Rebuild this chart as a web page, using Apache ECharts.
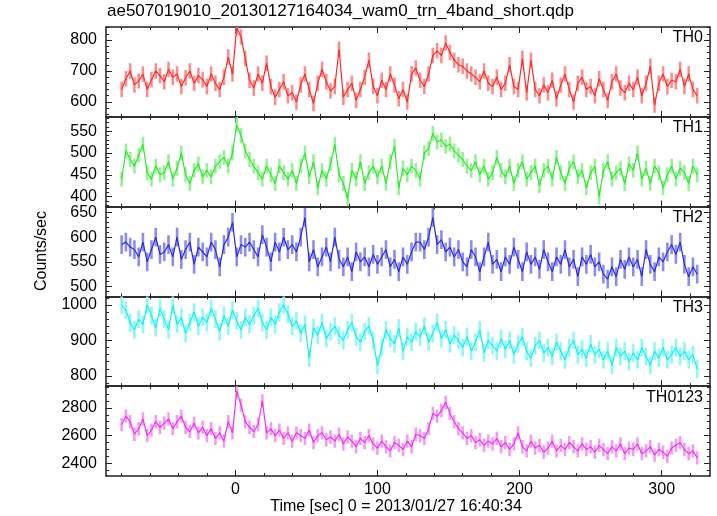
<!DOCTYPE html>
<html><head><meta charset="utf-8">
<script src="https://cdn.jsdelivr.net/npm/echarts@6/dist/echarts.min.js"></script>
<style>html,body{margin:0;padding:0;background:#fff}#c{width:717px;height:516px}</style>
</head><body><div id="c"></div>
<script>
const titleText = 'ae507019010_20130127164034_wam0_trn_4band_short.qdp';
const xName = 'Time [sec] 0 = 2013/01/27 16:40:34';
const yName = 'Counts/sec';
const panelNames = ['TH0', 'TH1', 'TH2', 'TH3', 'TH0123'];
const timeStart = -80, timeStep = 3;

const th0 = [
 640,675,700,655,668,690,640,672,700,685,
 665,705,680,690,650,678,700,660,685,672,
 650,690,660,640,680,745,690,840,810,740,
 670,645,690,660,725,650,615,640,665,620,
 630,600,655,690,640,595,660,705,665,635,
 650,770,615,640,660,605,640,680,735,650,
 620,670,640,690,655,610,640,600,690,710,
 670,650,690,750,765,750,790,760,735,720,
 715,700,690,680,665,700,660,650,680,640,
 660,720,650,640,740,630,735,640,620,655,
 630,670,610,655,690,640,600,660,680,640,
 650,620,675,640,605,665,690,645,630,660,
 640,680,620,660,715,590,660,690,650,670,
 665,705,650,690,640,620];
const th1 = [
 440,505,485,470,495,520,455,440,470,450,
 455,480,440,465,500,450,430,460,475,445,
 460,445,470,480,490,470,500,565,540,505,
 485,470,455,440,470,450,430,470,455,440,
 460,430,470,500,445,480,420,460,440,475,
 520,450,430,395,460,440,480,430,455,470,
 445,470,430,480,515,420,465,450,470,460,
 440,500,510,545,525,530,515,520,505,495,
 485,470,460,480,450,470,440,455,490,460,
 445,470,430,460,480,440,455,470,425,460,
 470,440,490,455,430,465,480,445,460,420,
 455,470,400,460,480,440,455,465,430,475,
 460,500,440,465,430,470,455,420,450,470,
 440,465,455,430,470,450];
const th2 = [
 585,590,580,575,560,590,550,575,600,565,
 570,585,560,600,555,575,590,545,580,570,
 560,590,575,540,585,600,630,560,585,580,
 590,575,560,605,580,550,590,570,600,575,
 585,570,600,640,550,575,540,560,580,550,
 600,555,540,560,530,570,550,560,540,565,
 545,560,575,540,555,530,560,545,570,590,
 590,575,600,640,585,595,570,580,560,575,
 550,540,575,560,530,560,590,545,555,530,
 560,545,580,555,530,570,545,560,535,575,
 550,530,560,545,575,540,555,520,560,545,
 565,540,550,525,515,540,520,555,535,560,
 540,555,520,575,545,530,560,550,570,585,
 565,590,545,520,540,525];
const th3 = [
 1000,985,950,930,960,945,1000,970,935,990,
 960,930,1000,945,965,920,950,980,940,965,
 950,990,960,925,970,940,985,955,930,965,
 945,970,990,950,930,965,945,980,1000,975,
 940,955,920,945,850,935,915,950,905,925,
 940,915,900,930,950,910,895,925,940,900,
 830,880,930,905,890,935,870,910,895,925,
 910,940,895,920,950,905,930,890,915,900,
 880,910,870,895,930,865,900,885,870,905,
 875,900,860,890,910,870,850,885,900,865,
 880,855,895,870,845,880,900,860,875,850,
 890,860,875,845,870,830,880,855,870,840,
 865,845,880,855,830,870,850,880,845,860,
 880,855,870,845,860,820];
const th0123 = [
 2680,2740,2700,2610,2650,2720,2600,2640,2700,2660,
 2690,2720,2650,2700,2740,2660,2630,2690,2620,2660,
 2600,2650,2580,2620,2560,2700,2620,2920,2820,2700,
 2660,2630,2680,2850,2620,2650,2600,2640,2580,2620,
 2560,2620,2600,2580,2640,2550,2600,2620,2570,2590,
 2560,2610,2540,2590,2560,2520,2580,2550,2600,2540,
 2510,2560,2520,2490,2550,2530,2500,2560,2520,2610,
 2600,2580,2650,2760,2740,2780,2840,2760,2700,2650,
 2620,2580,2600,2550,2570,2530,2560,2540,2580,2520,
 2550,2500,2540,2620,2520,2490,2560,2510,2530,2480,
 2510,2560,2490,2530,2500,2550,2520,2490,2540,2500,
 2520,2480,2530,2500,2470,2520,2490,2540,2470,2510,
 2500,2540,2470,2490,2520,2460,2500,2480,2450,2510,
 2530,2550,2500,2470,2490,2440];

const seriesValues = [th0, th1, th2, th3, th0123];
const errors = [25, 17, 19, 25, 48];
const yMin = [552, 377, 480, 771, 2309];
const yMax = [842, 583, 662, 1024, 2956];
const yMajor = [[600,700,800],[400,450,500,550],[500,550,600,650],[800,900,1000],[2400,2600,2800]];
const yMinorStep = [20, 10, 10, 20, 50];
const xMin = -91, xMax = 334;
const xMajor = [0, 100, 200, 300];
const xMinorStep = 20;
const darkColors = ['#ff2a2a', '#2ee82e', '#2a2ae8', '#14f0f0', '#f032f0'];
const lightColors = ['#ff8c8c', '#94f294', '#8c8cf0', '#8cf8f8', '#f59af5'];

function stepValues(min, max, step) {
  const out = [];
  for (let v = Math.ceil(min / step) * step; v <= max; v += step) out.push(v);
  return out;
}
const xMinor = stepValues(xMin, xMax, xMinorStep);

const chart = echarts.init(document.getElementById('c'), null, {renderer: 'canvas'});
const gridLeft = 106, gridWidth = 604, gridTop = 27, panelH = 89.8;
const grids = [], xAxes = [], yAxes = [], series = [], graphics = [];
const lineCol = '#222';
const font = '"Liberation Sans", Arial, sans-serif';
const plain = v => String(v);

for (let i = 0; i < 5; i++) {
  grids.push({left: gridLeft, width: gridWidth, top: gridTop + i * panelH, height: panelH});
  const isLast = i === 4;
  const xBase = {gridIndex: i, type: 'value', min: xMin, max: xMax, splitLine: {show: false}};
  const xi = xAxes.length;
  xAxes.push(Object.assign({}, xBase, {position: 'bottom',
    axisLine: {show: true, onZero: false, lineStyle: {color: lineCol, width: 1.5}},
    axisTick: {show: true, inside: true, length: 3, customValues: xMinor, lineStyle: {color: lineCol}},
    axisLabel: {show: false}}));
  xAxes.push(Object.assign({}, xBase, {position: 'bottom',
    axisLine: {show: false, onZero: false},
    axisTick: {show: true, inside: true, length: 6, customValues: xMajor, lineStyle: {color: lineCol}},
    axisLabel: isLast ? {show: true, customValues: xMajor, formatter: plain, fontSize: 16, color: '#000', fontFamily: font, margin: 6} : {show: false}}));
  xAxes.push(Object.assign({}, xBase, {position: 'top',
    axisLine: {show: true, onZero: false, lineStyle: {color: lineCol, width: 1.5}},
    axisTick: {show: true, inside: true, length: 3, customValues: xMinor, lineStyle: {color: lineCol}},
    axisLabel: {show: false}}));
  xAxes.push(Object.assign({}, xBase, {position: 'top',
    axisLine: {show: false, onZero: false},
    axisTick: {show: true, inside: true, length: 6, customValues: xMajor, lineStyle: {color: lineCol}},
    axisLabel: {show: false}}));

  const yMinor = stepValues(yMin[i], yMax[i], yMinorStep[i]);
  const yBase = {gridIndex: i, type: 'value', min: yMin[i], max: yMax[i], splitLine: {show: false}, scale: true};
  const yi = yAxes.length;
  yAxes.push(Object.assign({}, yBase, {position: 'left',
    axisLine: {show: true, onZero: false, lineStyle: {color: lineCol, width: 1.5}},
    axisTick: {show: true, inside: true, length: 6, customValues: yMajor[i], lineStyle: {color: lineCol}},
    axisLabel: {show: true, customValues: yMajor[i], formatter: plain, fontSize: 16, color: '#000', fontFamily: font, margin: 9}}));
  yAxes.push(Object.assign({}, yBase, {position: 'left',
    axisLine: {show: false, onZero: false},
    axisTick: {show: true, inside: true, length: 3, customValues: yMinor, lineStyle: {color: lineCol}},
    axisLabel: {show: false}}));
  yAxes.push(Object.assign({}, yBase, {position: 'right',
    axisLine: {show: true, onZero: false, lineStyle: {color: lineCol, width: 1.5}},
    axisTick: {show: true, inside: true, length: 6, customValues: yMajor[i], lineStyle: {color: lineCol}},
    axisLabel: {show: false}}));
  yAxes.push(Object.assign({}, yBase, {position: 'right',
    axisLine: {show: false, onZero: false},
    axisTick: {show: true, inside: true, length: 3, customValues: yMinor, lineStyle: {color: lineCol}},
    axisLabel: {show: false}}));

  const vals = seriesValues[i];
  const err = errors[i];
  const pts = vals.map((v, k) => [timeStart + k * timeStep, v]);
  const errData = vals.map((v, k) => [timeStart + k * timeStep, v, err]);
  const light = lightColors[i];
  series.push({
    type: 'custom', xAxisIndex: xi, yAxisIndex: yi, clip: true, data: errData,
    renderItem: (params, api) => {
      const x = api.value(0), y = api.value(1), e = api.value(2);
      const p1 = api.coord([x, y - e]);
      const p2 = api.coord([x, y + e]);
      return {type: 'line', shape: {x1: p1[0], y1: p1[1], x2: p2[0], y2: p2[1]},
        style: {stroke: light, lineWidth: 2.6}};
    }
  });
  series.push({
    type: 'line', xAxisIndex: xi, yAxisIndex: yi, data: pts, showSymbol: false, clip: true,
    lineStyle: {color: darkColors[i], width: 1.2}, itemStyle: {color: darkColors[i]}
  });

  graphics.push({type: 'text', right: 717 - 703, top: gridTop + i * panelH + 3,
    style: {text: panelNames[i], font: '16px ' + font, fill: '#000', textAlign: 'right'}});
}

graphics.push({type: 'text', left: 107, top: 3,
  style: {text: titleText, font: '17px ' + font, fill: '#000'}});
graphics.push({type: 'text', x: 396, y: 507,
  style: {text: xName, font: '16px ' + font, fill: '#000', textAlign: 'center', textVerticalAlign: 'middle'}});
graphics.push({type: 'text', x: 42, y: 251, rotation: Math.PI / 2,
  style: {text: yName, font: '16px ' + font, fill: '#000', textAlign: 'center', textVerticalAlign: 'middle'}});

chart.setOption({
  animation: false,
  backgroundColor: '#fff',
  grid: grids, xAxis: xAxes, yAxis: yAxes, series: series, graphic: graphics
});
</script></body></html>
